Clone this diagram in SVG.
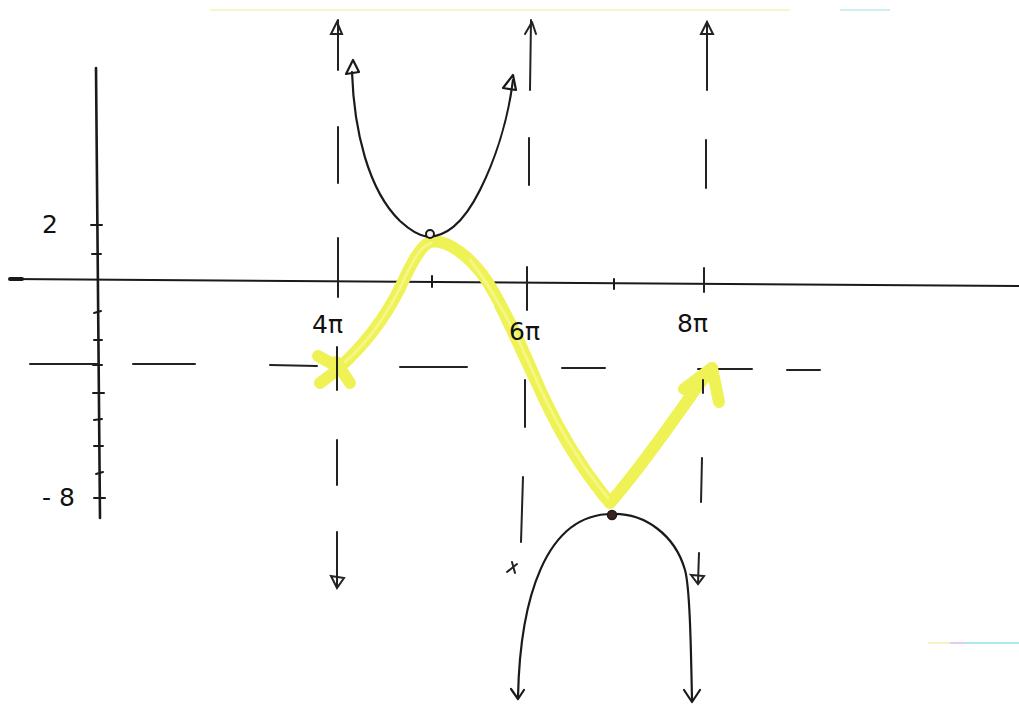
<svg xmlns="http://www.w3.org/2000/svg" width="1019" height="711" viewBox="0 0 1019 711">
<style>
.ax{stroke:#1a1a1a;fill:none;stroke-linecap:round}
.dash{stroke:#222;stroke-width:2;fill:none;stroke-linecap:round}
.curve{stroke:#1a1a1a;stroke-width:2.2;fill:none;stroke-linecap:round;stroke-linejoin:round}
.hl{stroke:#eef255;stroke-width:12;fill:none;stroke-linecap:round;stroke-linejoin:round}
.hl2{stroke:#f6f890;stroke-width:3;fill:none;stroke-linecap:round;opacity:0.8}
.lbl{font-family:"DejaVu Sans","Liberation Sans",sans-serif;font-size:25px;fill:#111111}
.tick{stroke:#1a1a1a;stroke-width:2;stroke-linecap:round}
</style>
<rect width="1019" height="711" fill="#ffffff"/>
<!-- scan artifacts -->
<line x1="210" y1="10" x2="790" y2="10" stroke="#f6f6c8" stroke-width="2"/>
<line x1="840" y1="10" x2="890" y2="10" stroke="#cfeef2" stroke-width="2"/>
<line x1="928" y1="643" x2="950" y2="643" stroke="#f8f2c8" stroke-width="2"/>
<line x1="950" y1="643" x2="965" y2="643" stroke="#e8c8ee" stroke-width="2"/>
<line x1="965" y1="643" x2="1019" y2="643" stroke="#a8eaf0" stroke-width="2"/>

<g id="axes">
  <path class="ax" stroke-width="2" d="M10 279 L1019 286"/>
  <path class="ax" stroke-width="4" d="M10 279 L22 279"/>
  <path class="ax" stroke-width="2.6" d="M96 68 L100 518"/>
  <g id="yticks">
    <line class="tick" x1="91" y1="225" x2="102" y2="225"/>
    <line class="tick" x1="92" y1="254" x2="101" y2="254"/>
    <line class="tick" x1="94" y1="313" x2="101" y2="311"/>
    <line class="tick" x1="94" y1="340" x2="102" y2="340"/>
    <line class="tick" x1="93" y1="365" x2="102" y2="365"/>
    <line class="tick" x1="93" y1="393" x2="104" y2="393" stroke-width="3"/>
    <line class="tick" x1="94" y1="420" x2="102" y2="419"/>
    <line class="tick" x1="94" y1="446" x2="103" y2="446"/>
    <line class="tick" x1="96" y1="474" x2="103" y2="472"/>
    <line class="tick" x1="94" y1="498" x2="105" y2="498"/>
  </g>
  <g id="xticks">
    <line class="tick" x1="432" y1="276" x2="432" y2="287"/>
    <line class="tick" x1="614" y1="279" x2="614" y2="289"/>
  </g>
</g>

<g id="horizontal-dashes">
  <path class="dash" d="M30 364 L98 364 M133 364 L195 364 M270 365 L317 366 M400 367 L467 367 M562 368 L605 368 M698 369 L752 369 M787 370 L820 370"/>
</g>

<g id="sine-highlight">
  <path class="hl" d="M340 367 C362 347 383 322 400 288 C410 266 420 246 430 242 C446 238 470 256 487 281 C500 302 519 340 533 373 C550 415 575 462 610 503 C630 480 660 440 697 387 L712 368"/>
  <path class="hl" stroke-width="8" d="M500 305 C515 335 530 370 545 400 C560 432 580 465 605 497"/>
  <path class="hl" d="M318 356 L340 368 L320 383 M336 362 L350 383"/>
  <path class="hl" d="M712 368 L684 389 M712 368 L719 402"/>
  <path class="hl2" d="M345 362 C366 344 385 318 401 286 C412 262 420 246 431 243 M470 260 C490 285 515 330 532 370 C550 412 575 458 608 498"/>
</g>

<g id="asymptotes">
  <path class="dash" d="M338 20 L338 70 M338 127 L338 183 M338 238 L338 297 M337 347 L337 390 M337 440 L337 485 M337 532 L337 587"/>
  <path class="dash" d="M331 34 L337 22 L342 34 Z"/>
  <path class="dash" d="M331 576 L337 588 L344 578 Z"/>
  <path class="dash" d="M531 20 L530 90 M529 138 L529 185 M527 267 L527 310 M525 380 L525 427 M523 477 L521 542"/>
  <path class="dash" d="M525 34 L532 22 M532 22 L536 34"/>
  <path class="dash" d="M507 572 L517 564 M512 562 L515 573"/>
  <path class="dash" d="M707 22 L707 90 M706 140 L706 188 M704 268 L704 292 M703 380 L703 393 M702 458 L701 502 M699 553 L698 583"/>
  <path class="dash" d="M701 34 L707 22 L713 34 Z"/>
  <path class="dash" d="M691 575 L698 584 L704 576 Z"/>
</g>

<g id="upper-branch">
  <path class="curve" d="M352 72 C354 130 368 190 400 221 C412 232 420 236 428 237 C445 236 462 226 480 190 C495 160 508 120 513 80"/>
  <path class="curve" d="M346 74 L353 60 L359 72 Z"/>
  <path class="curve" d="M503 88 L513 75 L516 90 Z"/>
  <circle cx="430" cy="234" r="4" fill="#f3f3f3" stroke="#1a1a1a" stroke-width="2"/>
</g>

<g id="lower-branch">
  <path class="curve" d="M518 697 C520 600 545 514 612 514 C645 513 675 535 685 570 C690 588 691 650 692 700"/>
  <path class="curve" d="M511 689 L518 699 L524 690"/>
  <path class="curve" d="M684 690 L692 702 L700 690"/>
  <circle cx="612" cy="515" r="4.5" fill="#3a2222" stroke="#1a1a1a" stroke-width="1.5"/>
</g>

<g id="labels">
  <text class="lbl" x="42" y="233">2</text>
  <text class="lbl" x="42" y="506">- 8</text>
  <text class="lbl" x="312" y="333">4π</text>
  <text class="lbl" x="509" y="340">6π</text>
  <text class="lbl" x="677" y="332">8π</text>
</g>
</svg>
